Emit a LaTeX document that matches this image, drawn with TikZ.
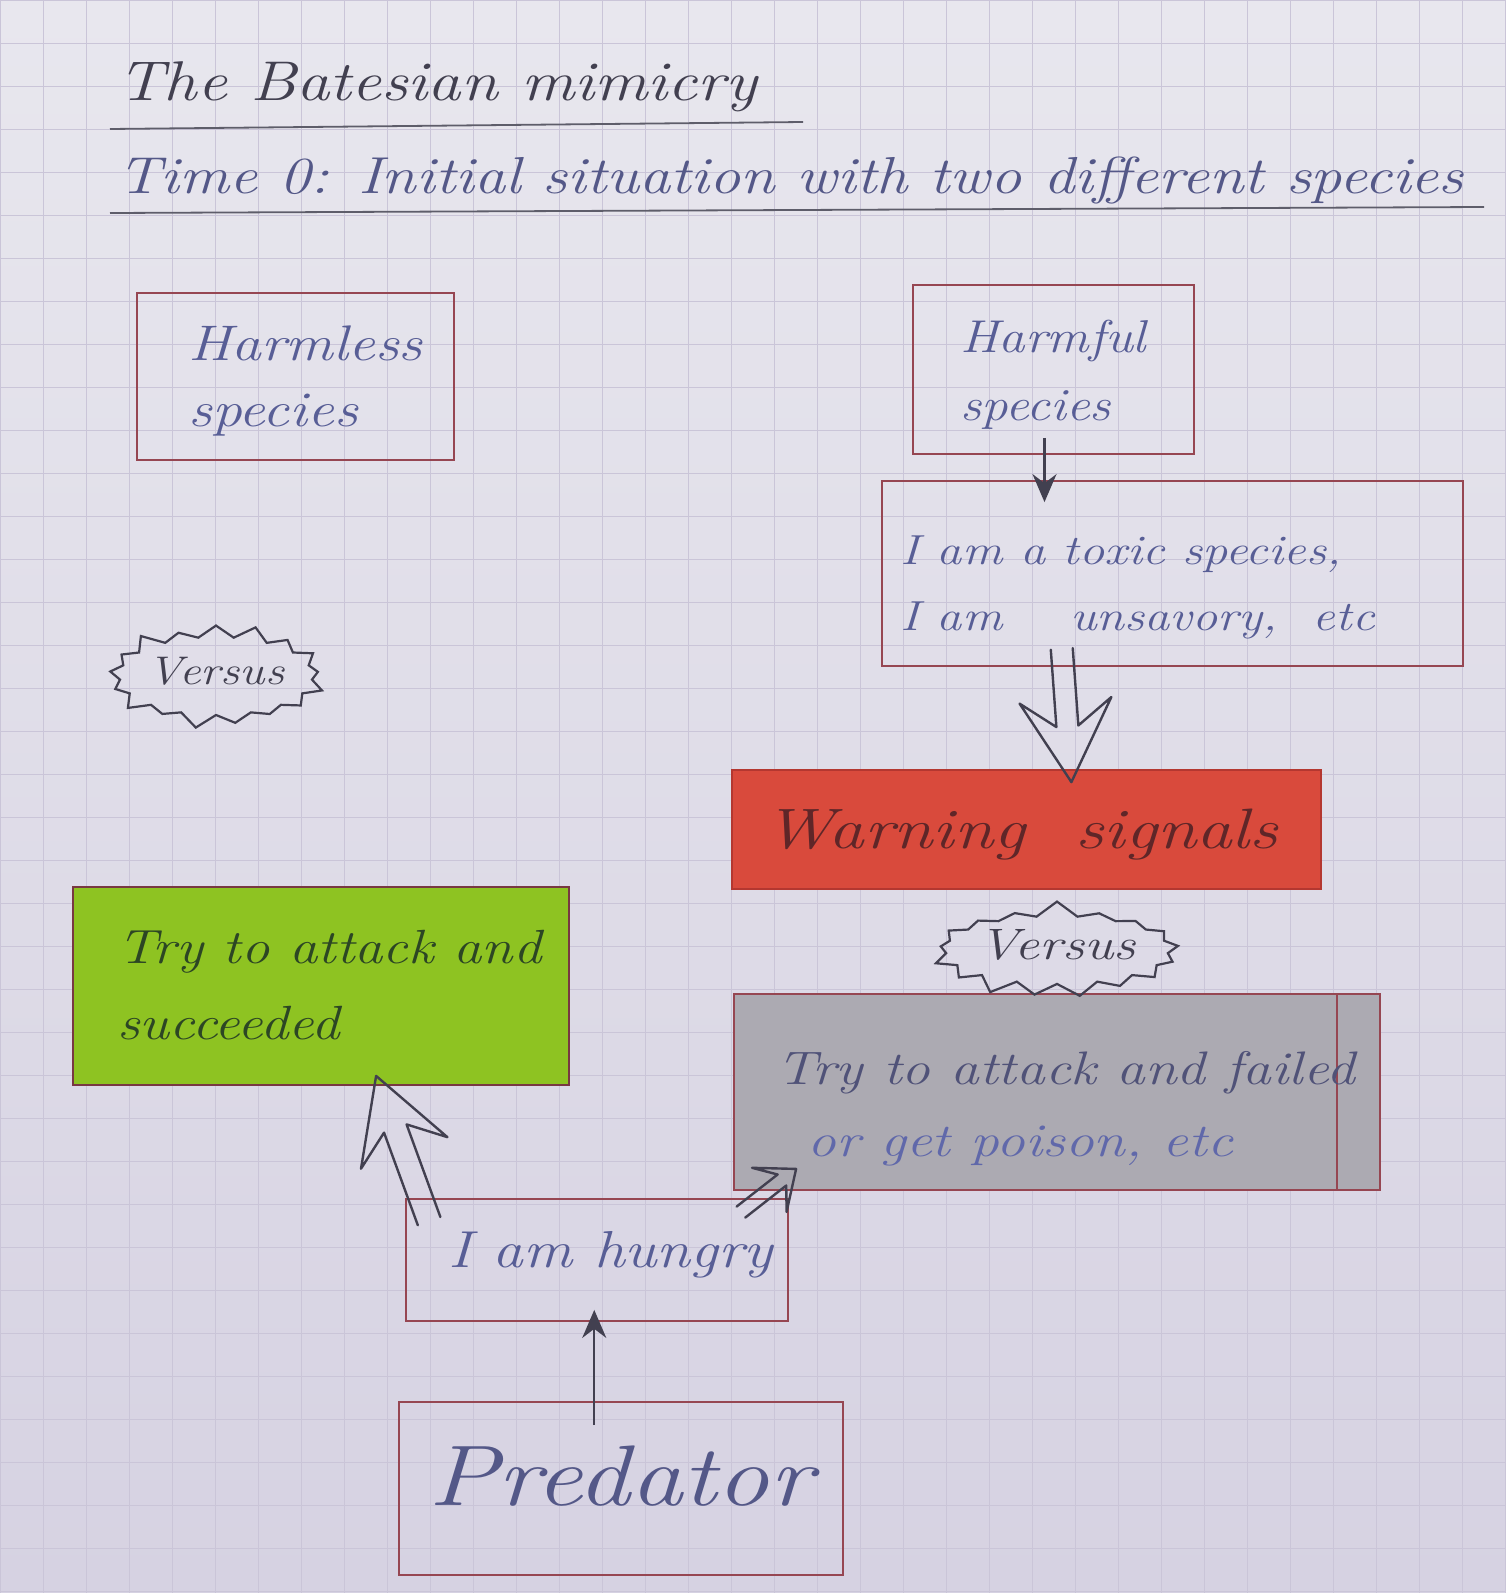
\documentclass[tikz,border=0pt]{standalone}
\usepackage{fontspec}
\usetikzlibrary{arrows.meta,calc,shapes.symbols}
\definecolor{paperA}{RGB}{232,231,238}
\definecolor{paperB}{RGB}{214,210,226}
\definecolor{gridc}{RGB}{202,197,216}
\definecolor{boxred}{RGB}{150,70,82}
\definecolor{ink}{RGB}{88,94,150}
\definecolor{pencil}{RGB}{66,64,80}
\definecolor{warnfill}{RGB}{217,74,60}
\definecolor{warnedge}{RGB}{180,55,48}
\definecolor{warnink}{RGB}{95,38,40}
\definecolor{greenfill}{RGB}{142,195,34}
\definecolor{greenink}{RGB}{44,70,36}
\definecolor{greyfill}{RGB}{172,170,178}
\definecolor{greyink}{RGB}{80,82,120}
\definecolor{greyinkb}{RGB}{96,104,170}
\newcommand\handfont[2]{\fontsize{#1}{#2}\selectfont\itshape}
\newcommand\hx[2][1.2]{\scalebox{#1}[1]{\begin{tabular}{@{}l@{}}#2\end{tabular}}}
\newcommand\hollowarrow[6]{%
  \coordinate (HAn) at ($(#2)!#4!(#1)$);
  \coordinate (HAh) at ($(#2)!#5!(#1)$);
  \draw[hollow] ($(#1)!#3!90:(#2)$) -- ($(HAn)!#3!90:(#2)$) -- ($(HAh)!#6!90:(#2)$)
     -- (#2) -- ($(HAh)!#6!-90:(#2)$) -- ($(HAn)!#3!-90:(#2)$) -- ($(#1)!#3!-90:(#2)$);
}
\tikzset{
  box/.style={draw=boxred, line width=1.8pt, rectangle, inner sep=0pt},
  handtext/.style={inner sep=0pt, anchor=west, text=ink},
  pencilarrow/.style={draw=pencil, line width=2.4pt, -{Stealth[length=28pt,width=24pt]}},
  hollow/.style={draw=pencil, line width=2.4pt, line join=round, line cap=round},
  burst/.style={starburst, draw=pencil, line width=2.2pt, starburst point height=16pt, inner sep=0pt, text=pencil},
  underline/.style={draw=pencil!85, line width=1.8pt}
}
\begin{document}
\begin{tikzpicture}[x=1pt,y=-1pt]
\useasboundingbox (0,0) rectangle (1505,1593);
% paper
\shade[top color=paperA, bottom color=paperB] (0,0) rectangle (1505,1593);
\draw[gridc, line width=1pt] (0,0) grid[step=43pt] (1505,1593);

% headings
\node[anchor=base west, inner sep=0pt, text=pencil, font=\handfont{56}{60}] (title) at (117,100) {\scalebox{1.19}[1]{The Batesian mimicry}};
\draw[underline] (110,129) -- (803,122);
\node[anchor=base west, inner sep=0pt, text=ink!80!pencil, font=\handfont{52}{56}] (subtitle) at (117,193) {\scalebox{1.2}[1]{Time 0: Initial situation with two different species}};
\draw[underline] (110,213) -- (1484,207);

% boxes
\node[box, minimum width=317pt, minimum height=167pt] (harmless) at (295.5,376.5) {};
\node[box, minimum width=281pt, minimum height=169pt] (harmful) at (1053.5,369.5) {};
\node[box, minimum width=581pt, minimum height=185pt] (toxic) at (1172.5,573.5) {};
\node[box, draw=warnedge, fill=warnfill, minimum width=589pt, minimum height=119pt] (warning) at (1026.5,829.5) {};
\node[box, draw=boxred!80!black, fill=greenfill, minimum width=496pt, minimum height=198pt] (green) at (321,986) {};
\node[box, fill=greyfill, minimum width=646pt, minimum height=196pt] (grey) at (1057,1092) {};
\draw[draw=boxred, line width=1.8pt] ($(grey.north east)+(-44,0)$) -- ($(grey.south east)+(-44,0)$);
\node[box, minimum width=382pt, minimum height=122pt] (hungry) at (597,1260) {};
\node[box, minimum width=444pt, minimum height=173pt] (predator) at (621,1488.5) {};

% texts
\node[handtext, font=\handfont{50}{66}] (tharmless) at (188,380) {\hx[1.19]{Harmless\\species}};
\node[handtext, font=\handfont{46}{68}] (tharmful) at (960,373) {\hx[1.15]{Harmful\\species}};
\node[handtext, font=\handfont{42}{66}] (ttoxic) at (900,584) {\hx[1.2]{I am a toxic species,\\I am \quad unsavory, \ etc}};
\node[handtext, text=warnink, font=\handfont{57}{60}] (twarning) at (764,836) {\hx[1.25]{Warning \ signals}};
\node[handtext, text=greenink, font=\handfont{48}{76}] (tgreen) at (117,986) {\hx[1.18]{Try to attack and\\succeeded}};
\node[handtext, font=\handfont{47}{72}] (tgrey) at (776,1106) {\hx[1.22]{{\color{greyink}Try to attack and failed}\\\hspace*{26pt}{\color{greyinkb}or get poison, etc}}};
\node[handtext, font=\handfont{52}{56}] (thungry) at (448,1256) {\hx[1.18]{I am hungry}};
\node[handtext, text=ink!80!pencil, font=\handfont{86}{96}] (tpredator) at (428,1486) {\hx[1.22]{Predator}};

% versus bursts
\node[burst, minimum width=218pt, minimum height=110pt, font=\handfont{40}{44}] (vs1) at (216,676) {\hx[1.2]{Versus}};
\node[burst, minimum width=244pt, minimum height=92pt, font=\handfont{44}{48}, random starburst=7] (vs2) at (1057,950) {\hx[1.26]{Versus}};

% connectors
\draw[pencilarrow] ($(harmful.south)+(-9,-17)$) -- ($(harmful.south |- toxic.north)+(-9,22)$);
\coordinate (t1) at ($(toxic.south west)!0.31!(toxic.south east)+(0,-18)$);
\coordinate (w1) at ($(warning.north west)!0.576!(warning.north east)+(0,13)$);
\hollowarrow{t1}{w1}{11pt}{56pt}{82pt}{46pt}
\coordinate (h1) at ($(hungry.north west)+(24,23)$);
\coordinate (g1) at ($(green.south west)+(304,-10)$);
\hollowarrow{h1}{g1}{12pt}{56pt}{82pt}{46pt}
\coordinate (h2) at ($(hungry.north east)+(-48,14)$);
\coordinate (g2) at ($(grey.south west)+(63,-22)$);
\hollowarrow{h2}{g2}{7pt}{18pt}{34pt}{28pt}
\coordinate (p1) at ($(predator.north west)!0.44!(predator.north east)+(0,24)$);
\draw[pencilarrow] (p1) -- ($(p1 |- hungry.south)+(0,-12)$);
\end{tikzpicture}
\end{document}
